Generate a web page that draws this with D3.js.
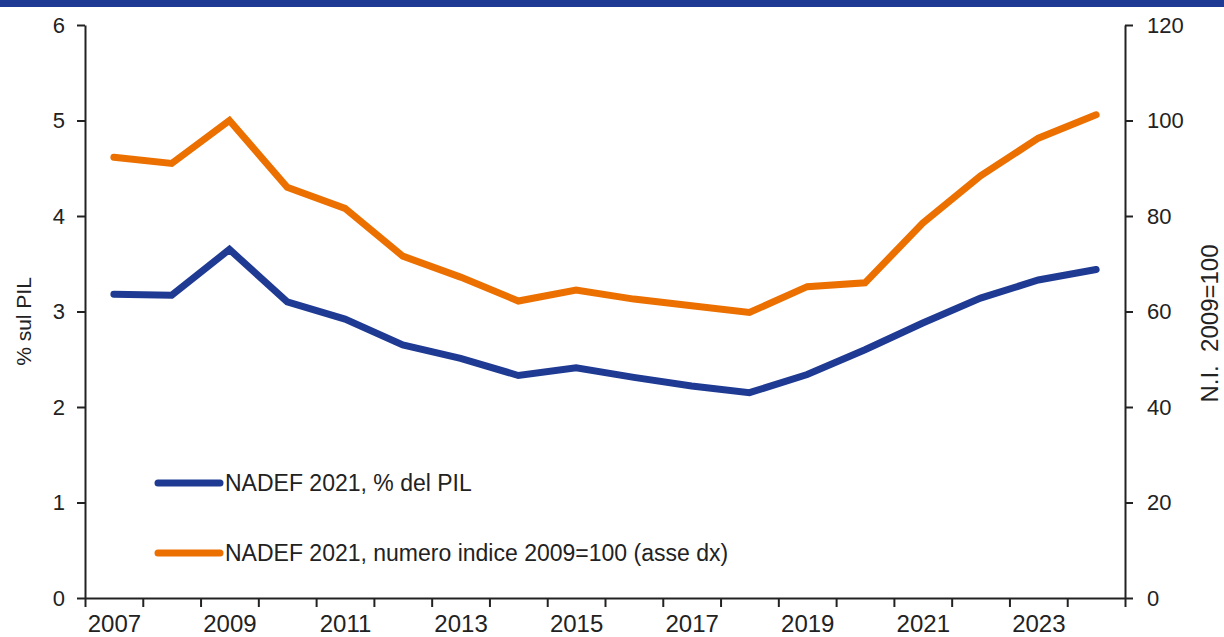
<!DOCTYPE html>
<html>
<head>
<meta charset="utf-8">
<script src="https://cdn.jsdelivr.net/npm/d3@7"></script>
<style>
  body { margin: 0; background: #fff; }
  svg { display: block; font-family: "Liberation Sans", Arial, sans-serif; }
</style>
</head>
<body>
<svg></svg>
<script>
// data
let years = [2007, 2008, 2009, 2010, 2011, 2012, 2013, 2014, 2015, 2016, 2017, 2018, 2019, 2020, 2021, 2022, 2023, 2024];
let pilShare = [3.18, 3.17, 3.65, 3.10, 2.92, 2.65, 2.51, 2.33, 2.41, 2.31, 2.22, 2.15, 2.34, 2.60, 2.88, 3.14, 3.33, 3.44];
let indexNum = [92.3, 91.0, 100, 86.0, 81.6, 71.6, 67.2, 62.2, 64.5, 62.6, 61.2, 59.8, 65.2, 66.0, 78.5, 88.4, 96.3, 101.2];
let leftTicks = [0, 1, 2, 3, 4, 5, 6];
let rightTicks = [0, 20, 40, 60, 80, 100, 120];
let yearLabels = [2007, 2009, 2011, 2013, 2015, 2017, 2019, 2021, 2023];
let legendLabels = ["NADEF 2021, % del PIL", "NADEF 2021, numero indice 2009=100 (asse dx)"];

let blue = "#1f3a93";
let orange = "#ec7000";
let axisColor = "#222";

let svg = d3.select("svg").attr("width", 1224).attr("height", 637);

// top band
svg.append("rect")
    .attr("x", 0).attr("y", 0)
    .attr("width", 1224).attr("height", 7)
    .style("fill", blue);

let plotLeft = 85, plotRight = 1125, plotTop = 25, plotBottom = 598;

let x = d3.scaleLinear().domain([years[0] - 0.5, years[years.length - 1] + 0.5]).range([plotLeft, plotRight]);
let yL = d3.scaleLinear().domain([0, 6]).range([plotBottom, plotTop]);
let yR = d3.scaleLinear().domain([0, 120]).range([plotBottom, plotTop]);

function styleAxis(g, size) {
    g.select(".domain").style("stroke", axisColor).style("stroke-width", 2);
    g.selectAll(".tick line").style("stroke", axisColor).style("stroke-width", 2);
    g.selectAll(".tick text")
        .style("font-size", size + "px")
        .style("fill", "#222")
        .style("font-family", "'Liberation Sans', Arial, sans-serif");
}

// left axis
let gL = svg.append("g")
    .attr("transform", `translate(${plotLeft},0)`)
    .call(d3.axisLeft(yL).tickValues(leftTicks).tickFormat(d3.format("d")).tickSize(8).tickPadding(12).tickSizeOuter(0));
styleAxis(gL, 22);

// right axis
let gR = svg.append("g")
    .attr("transform", `translate(${plotRight},0)`)
    .call(d3.axisRight(yR).tickValues(rightTicks).tickSize(8).tickPadding(14).tickSizeOuter(0));
styleAxis(gR, 22);

// bottom axis: ticks at year boundaries
let boundaries = d3.range(years.length + 1).map(i => years[0] - 0.5 + i);
let gB = svg.append("g")
    .attr("transform", `translate(0,${plotBottom})`)
    .call(d3.axisBottom(x).tickValues(boundaries).tickSize(9).tickFormat("").tickSizeOuter(0));
styleAxis(gB, 22);

let gBL = svg.append("g")
    .attr("transform", `translate(0,${plotBottom})`)
    .call(d3.axisBottom(x).tickValues(yearLabels).tickSize(0).tickPadding(17).tickFormat(d3.format("d")));
gBL.select(".domain").remove();
styleAxis(gBL, 24);

// axis titles
svg.append("text")
    .attr("transform", `translate(31,${(plotTop + plotBottom) / 2 + 10}) rotate(-90)`)
    .attr("text-anchor", "middle")
    .style("font-size", "21px")
    .style("fill", "#222")
    .text("% sul PIL");

svg.append("text")
    .attr("transform", `translate(1218,${(plotTop + plotBottom) / 2 + 12}) rotate(-90)`)
    .attr("text-anchor", "middle")
    .style("font-size", "24px")
    .style("fill", "#222")
    .style("white-space", "pre")
    .text("N.I.  2009=100");

// lines
let lineL = d3.line().x((d, i) => x(years[i])).y(d => yL(d));
let lineR = d3.line().x((d, i) => x(years[i])).y(d => yR(d));

svg.append("path")
    .attr("d", lineR(indexNum))
    .style("fill", "none")
    .style("stroke", orange)
    .style("stroke-width", 7)
    .style("stroke-linecap", "round");

svg.append("path")
    .attr("d", lineL(pilShare))
    .style("fill", "none")
    .style("stroke", blue)
    .style("stroke-width", 7)
    .style("stroke-linecap", "round");

// legend
let legend = svg.append("g");
[blue, orange].forEach((c, i) => {
    let ly = 483 + i * 70;
    legend.append("line")
        .attr("x1", 158).attr("x2", 220)
        .attr("y1", ly).attr("y2", ly)
        .style("stroke", c)
        .style("stroke-width", 7)
        .style("stroke-linecap", "round");
    legend.append("text")
        .attr("x", 225).attr("y", ly + 8)
        .style("font-size", "23px")
        .style("fill", "#222")
        .text(legendLabels[i]);
});
</script>
</body>
</html>
